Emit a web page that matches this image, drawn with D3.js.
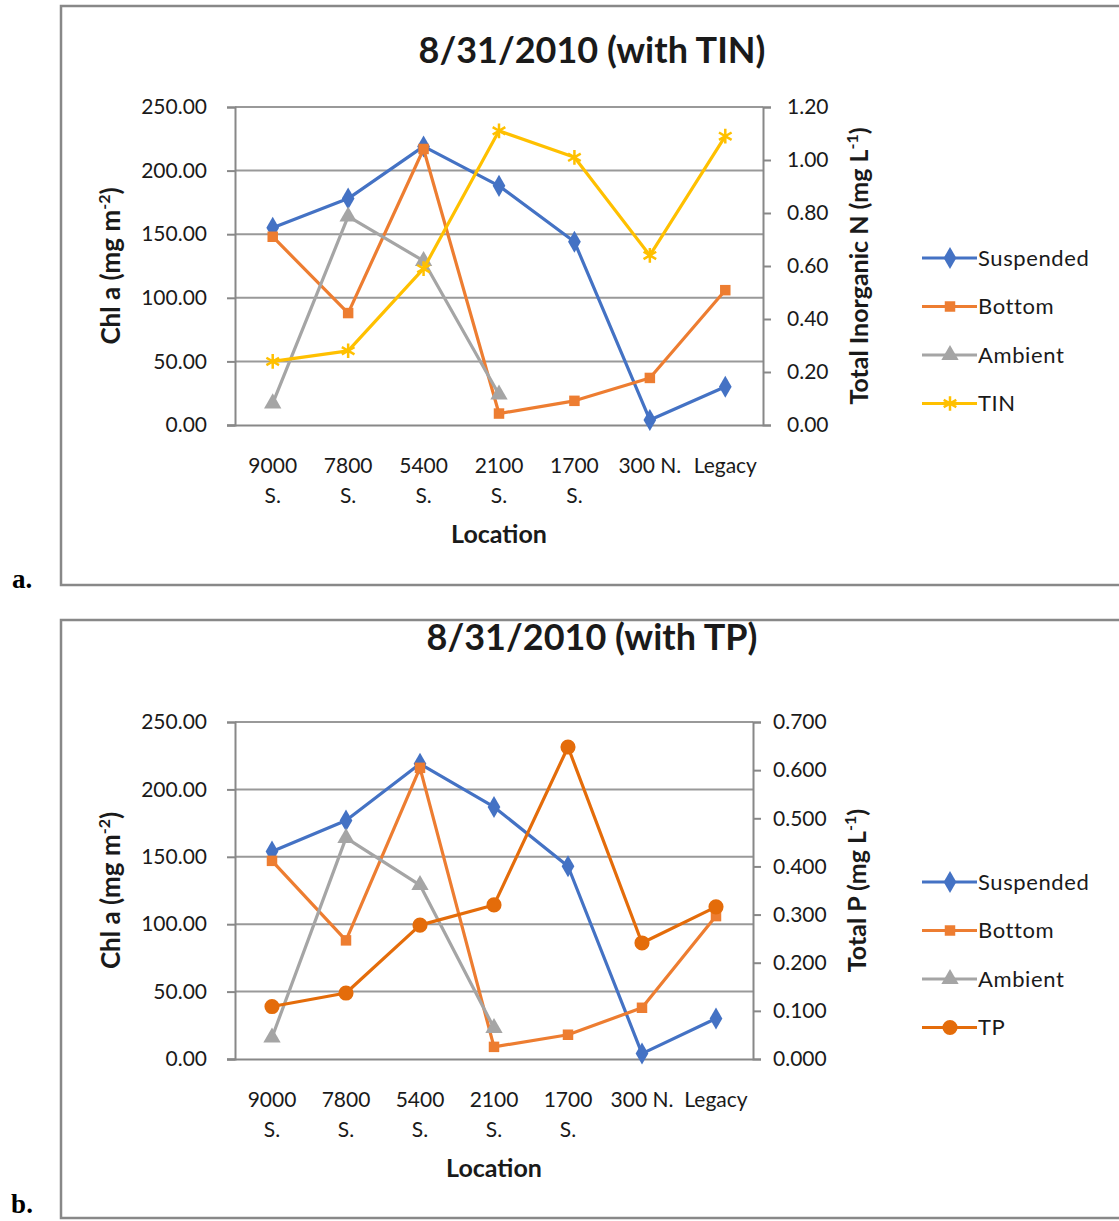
<!DOCTYPE html>
<html>
<head>
<meta charset="utf-8">
<script src="https://cdn.jsdelivr.net/npm/d3@7"></script>
<style>
  body { margin: 0; background: #fff; }
  text { font-family: Lato, "Open Sans", sans-serif; fill: #1a1a1a; }
</style>
</head>
<body>
<div id="chart"></div>
<script>
// categories (split into the two wrapped lines shown under each tick)
const categories = ['9000 S.', '7800 S.', '5400 S.', '2100 S.', '1700 S.', '300 N.', 'Legacy'];
const categoryLines = [['9000', 'S.'], ['7800', 'S.'], ['5400', 'S.'], ['2100', 'S.'], ['1700', 'S.'], ['300 N.'], ['Legacy']];

// chart a values
const suspendedA = [155, 178, 219, 188, 144, 4, 30];
const bottomA = [148, 88, 217, 9, 19, 37, 106];
const ambientA = [17, 164, 129, 24, null, null, null];
const tinA = [0.24, 0.28, 0.59, 1.11, 1.01, 0.64, 1.09];

// chart b values
const suspendedB = [154, 177, 219, 187, 143, 4, 30];
const bottomB = [147, 88, 216, 9, 18, 38, 106];
const ambientB = [16, 164, 129, 23, null, null, null];
const tpB = [0.109, 0.137, 0.278, 0.320, 0.648, 0.241, 0.316];

const leftTicks = [0, 50, 100, 150, 200, 250];
const tinTicks = [0, 0.2, 0.4, 0.6, 0.8, 1.0, 1.2];
const tpTicks = [0, 0.1, 0.2, 0.3, 0.4, 0.5, 0.6, 0.7];

const colors = {
    Suspended: '#4472C4',
    Bottom: '#ED7D31',
    Ambient: '#A5A5A5',
    TIN: '#FFC000',
    TP: '#E46C0A'
};

const svg = d3.select('#chart').append('svg')
    .attr('width', 1119)
    .attr('height', 1221);

function drawChart(opt) {
    const g = svg.append('g');

    // outer frame
    g.append('rect')
        .attr('x', 61).attr('y', opt.boxTop)
        .attr('width', 1070).attr('height', opt.boxBottom - opt.boxTop)
        .attr('fill', '#fff')
        .attr('stroke', '#888').attr('stroke-width', 2.5);

    g.append('text')
        .attr('x', 22).attr('y', opt.letterY)
        .attr('text-anchor', 'middle')
        .style('font-family', '"Liberation Serif", serif')
        .style('font-weight', 'bold')
        .style('font-size', '27px')
        .style('fill', '#000')
        .text(opt.letter);

    g.append('text')
        .attr('x', 592).attr('y', opt.titleY)
        .attr('text-anchor', 'middle')
        .style('font-weight', 'bold')
        .style('font-size', '36px')
        .text(opt.title);

    const x = d3.scaleBand()
        .domain(categories)
        .range([opt.left, opt.right]);

    const yL = d3.scaleLinear().domain([0, 250]).range([opt.bottom, opt.top]);
    const yR = d3.scaleLinear().domain(opt.rightDomain).range([opt.bottom, opt.top]);

    // gridlines
    g.append('g')
        .selectAll('line')
        .data(leftTicks.slice(1))
        .enter()
        .append('line')
        .attr('x1', opt.left).attr('x2', opt.right)
        .attr('y1', d => yL(d)).attr('y2', d => yL(d))
        .attr('stroke', '#999').attr('stroke-width', 2);

    // left axis
    const axL = g.append('g')
        .attr('transform', `translate(${opt.left},0)`)
        .call(d3.axisLeft(yL).tickValues(leftTicks).tickFormat(d3.format('.2f')).tickSize(8).tickPadding(20));
    // right axis
    const axR = g.append('g')
        .attr('transform', `translate(${opt.right},0)`)
        .call(d3.axisRight(yR).tickValues(opt.rightTicks).tickFormat(d3.format(opt.rightFormat)).tickSize(8).tickPadding(opt.rightPad));
    // bottom axis
    const axB = g.append('g')
        .attr('transform', `translate(0,${opt.bottom})`)
        .call(d3.axisBottom(x).tickSize(0).tickSizeOuter(0));

    [axL, axR, axB].forEach(ax => {
        ax.select('.domain').attr('stroke', '#888').attr('stroke-width', 2);
        ax.selectAll('.tick line').attr('stroke', '#888').attr('stroke-width', 2);
        ax.selectAll('text').style('font-size', '21px').style('font-family', 'Lato, sans-serif').attr('fill', '#1a1a1a');
    });
    axB.select('.domain').attr('d', `M${opt.left - 8},0.5H${opt.right}`);

    axB.selectAll('.tick text')
        .text(null)
        .attr('y', 0).attr('dy', null)
        .each(function(d, i) {
            const t = d3.select(this);
            categoryLines[i].forEach((line, j) => {
                t.append('tspan')
                    .attr('x', 0)
                    .attr('y', 48 + j * 30)
                    .text(line);
            });
        });

    // axis titles
    g.append('text')
        .attr('x', (opt.left + opt.right) / 2).attr('y', opt.bottom + 118)
        .attr('text-anchor', 'middle')
        .style('font-weight', 'bold').style('font-size', '25px')
        .text('Location');

    const midY = (opt.top + opt.bottom) / 2;
    const leftLabel = g.append('text')
        .attr('transform', `translate(120,${midY}) rotate(-90)`)
        .attr('text-anchor', 'middle')
        .style('font-weight', 'bold').style('font-size', '26px');
    leftLabel.append('tspan').text('Chl a (mg m');
    leftLabel.append('tspan').attr('dy', -10).style('font-size', '16px').text('-2');
    leftLabel.append('tspan').attr('dy', 10).text(')');

    const rightLabel = g.append('text')
        .attr('transform', `translate(${opt.rLabelX},${midY}) rotate(-90)`)
        .attr('text-anchor', 'middle')
        .style('font-weight', 'bold').style('font-size', '25px');
    rightLabel.append('tspan').text(opt.rightLabel + ' (mg L');
    rightLabel.append('tspan').attr('dy', -10).style('font-size', '16px').text('-1');
    rightLabel.append('tspan').attr('dy', 10).text(')');

    // series
    const cx = i => x(categories[i]) + x.bandwidth() / 2;
    opt.series.forEach(s => {
        const yScale = s.axis === 'right' ? yR : yL;
        const pts = s.values.map((v, i) => ({i, v})).filter(p => p.v !== null);
        g.append('path')
            .datum(pts)
            .attr('fill', 'none')
            .attr('stroke', colors[s.name])
            .attr('stroke-width', 3.2)
            .attr('stroke-linejoin', 'round')
            .attr('d', d3.line().x(p => cx(p.i)).y(p => yScale(p.v)));
        g.selectAll(null)
            .data(pts)
            .enter()
            .append('path')
            .attr('transform', p => `translate(${cx(p.i)},${yScale(p.v)})`)
            .attr('d', d3.symbol().type(s.symbol).size(s.size))
            .attr('fill', s.symbol === d3.symbolAsterisk ? 'none' : colors[s.name])
            .attr('stroke', colors[s.name])
            .attr('stroke-width', s.symbol === d3.symbolAsterisk ? 2.5 : 0);
    });

    // legend
    const legend = g.append('g').attr('transform', `translate(922,${opt.legendTop})`);
    opt.series.forEach((s, i) => {
        const row = legend.append('g').attr('transform', `translate(0,${i * 48.5})`);
        row.append('line')
            .attr('x1', 0).attr('x2', 55)
            .attr('stroke', colors[s.name]).attr('stroke-width', 3.2);
        row.append('path')
            .attr('transform', 'translate(28,0)')
            .attr('d', d3.symbol().type(s.symbol).size(s.size))
            .attr('fill', s.symbol === d3.symbolAsterisk ? 'none' : colors[s.name])
            .attr('stroke', colors[s.name])
            .attr('stroke-width', s.symbol === d3.symbolAsterisk ? 2.5 : 0);
        row.append('text')
            .attr('x', 56).attr('dy', '0.35em')
            .style('font-size', '22px')
            .style('letter-spacing', '0.6px')
            .text(s.name);
    });
}

drawChart({
    letter: 'a.', letterY: 588,
    boxTop: 6, boxBottom: 585,
    title: '8/31/2010 (with TIN)', titleY: 63,
    left: 235, right: 763, top: 107, bottom: 425,
    rightDomain: [0, 1.2], rightTicks: tinTicks, rightFormat: '.2f', rightPad: 16,
    rightLabel: 'Total Inorganic N', rLabelX: 868,
    legendTop: 258,
    series: [
        {name: 'Suspended', values: suspendedA, symbol: d3.symbolDiamond, size: 140},
        {name: 'Bottom', values: bottomA, symbol: d3.symbolSquare, size: 110},
        {name: 'Ambient', values: ambientA, symbol: d3.symbolTriangle, size: 130},
        {name: 'TIN', values: tinA, symbol: d3.symbolAsterisk, size: 150, axis: 'right'}
    ]
});

drawChart({
    letter: 'b.', letterY: 1213,
    boxTop: 620, boxBottom: 1218,
    title: '8/31/2010 (with TP)', titleY: 650,
    left: 235, right: 753, top: 722, bottom: 1059,
    rightDomain: [0, 0.7], rightTicks: tpTicks, rightFormat: '.3f', rightPad: 12,
    rightLabel: 'Total P', rLabelX: 866,
    legendTop: 882,
    series: [
        {name: 'Suspended', values: suspendedB, symbol: d3.symbolDiamond, size: 140},
        {name: 'Bottom', values: bottomB, symbol: d3.symbolSquare, size: 110},
        {name: 'Ambient', values: ambientB, symbol: d3.symbolTriangle, size: 130},
        {name: 'TP', values: tpB, symbol: d3.symbolCircle, size: 180, axis: 'right'}
    ]
});
</script>
</body>
</html>
